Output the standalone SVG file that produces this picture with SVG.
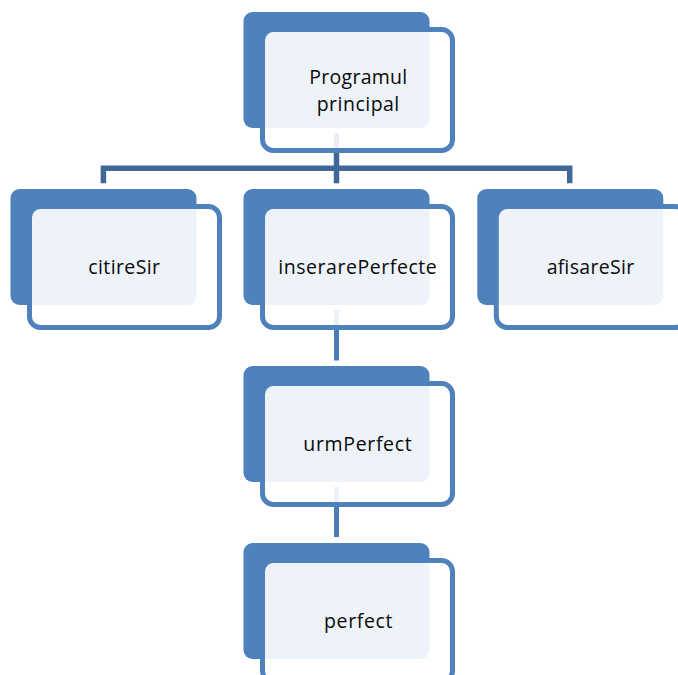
<svg xmlns="http://www.w3.org/2000/svg" width="678" height="675" viewBox="0 0 678 675">
<style>
.back{fill:#4F81BD}
.front{fill:#FFFFFF;fill-opacity:0.9;stroke:#4F81BD;stroke-width:5}
.lbl{font-family:"Open Sans","Noto Sans","Liberation Sans",sans-serif;font-size:19.5px;fill:#0A0A0A;text-anchor:middle}
.c1{fill:none;stroke:#3F6899;stroke-width:5.5;stroke-linejoin:miter;stroke-linecap:butt}
.c2{fill:none;stroke:#4A7CB8;stroke-width:5;stroke-linecap:butt}
</style>
<rect width="678" height="675" fill="#FFFFFF"/>
<g id="connectors">
<path class="c1" d="M103.4 183.3 V168.3 H569.7 V183.3"/>
<path class="c1" d="M336.5 133 V183.3"/>
<path class="c2" d="M336.5 310 V360.5"/>
<path class="c2" d="M336.5 487 V537"/>
</g>
<g id="node-programul">
<rect class="back" x="243.5" y="12" width="186" height="116" rx="9"/>
<rect class="front" x="262.5" y="29.5" width="190" height="121" rx="11"/>
<text class="lbl" x="358.3" y="84.3" textLength="98" lengthAdjust="spacing">Programul</text>
<text class="lbl" x="358" y="110.7" textLength="82.6" lengthAdjust="spacing">principal</text>
</g>
<g id="node-citireSir">
<rect class="back" x="10.5" y="189" width="186" height="116" rx="9"/>
<rect class="front" x="29.5" y="206.5" width="190" height="121" rx="11"/>
<text class="lbl" x="124.2" y="274.3" textLength="71.7" lengthAdjust="spacing">citireSir</text>
</g>
<g id="node-inserarePerfecte">
<rect class="back" x="243.5" y="189" width="186" height="116" rx="9"/>
<rect class="front" x="262.5" y="206.5" width="190" height="121" rx="11"/>
<text class="lbl" x="357.5" y="274.3" textLength="158.4" lengthAdjust="spacing">inserarePerfecte</text>
</g>
<g id="node-afisareSir">
<rect class="back" x="477.3" y="189" width="186" height="116" rx="9"/>
<rect class="front" x="496.3" y="206.5" width="190" height="121" rx="11"/>
<text class="lbl" x="590.5" y="274.3" textLength="87.6" lengthAdjust="spacing">afisareSir</text>
</g>
<g id="node-urmPerfect">
<rect class="back" x="243.5" y="366" width="186" height="116" rx="9"/>
<rect class="front" x="262.5" y="383.5" width="190" height="121" rx="11"/>
<text class="lbl" x="357.5" y="451" textLength="108.3" lengthAdjust="spacing">urmPerfect</text>
</g>
<g id="node-perfect">
<rect class="back" x="243.5" y="543" width="186" height="116" rx="9"/>
<rect class="front" x="262.5" y="560.5" width="190" height="121" rx="11"/>
<text class="lbl" x="358.2" y="627.5" textLength="68.3" lengthAdjust="spacing">perfect</text>
</g>
</svg>
